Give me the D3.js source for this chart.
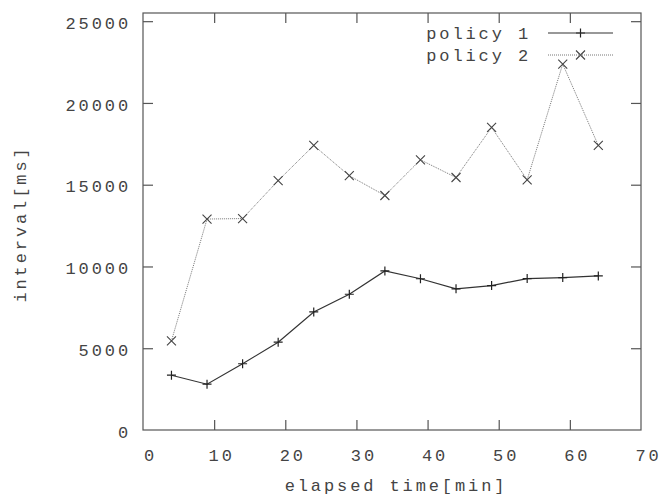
<!DOCTYPE html>
<html><head><meta charset="utf-8">
<script src="https://cdn.jsdelivr.net/npm/d3@7"></script>
<style>
html,body{margin:0;padding:0;background:#fff;}
text{font-family:"Liberation Mono","DejaVu Sans Mono",monospace;font-size:17px;fill:#444;letter-spacing:2.9px;}
</style></head>
<body><svg id="c" width="661" height="497"></svg>
<script>
const xValues = [4, 9, 14, 19, 24, 29, 34, 39, 44, 49, 54, 59, 64];
const policy1 = [3350, 2800, 4050, 5370, 7220, 8300, 9730, 9250, 8630, 8830, 9260, 9320, 9420];
const policy2 = [5450, 12900, 12930, 15250, 17400, 15550, 14340, 16520, 15440, 18500, 15300, 22380, 17400];
const seriesNames = ["policy 1", "policy 2"];
const xTicks = [0, 10, 20, 30, 40, 50, 60, 70];
const yTicks = [0, 5000, 10000, 15000, 20000, 25000];
const xLabel = "elapsed time[min]";
const yLabel = "interval[ms]";

const svg = d3.select("#c");
const L = 143, R = 641, T = 13, B = 430;
const x = d3.scaleLinear().domain([0, 70]).range([L, R]);
const y = d3.scaleLinear().domain([0, 25500]).range([B, T]);
const frameColor = "#555";

// frame
svg.append("rect").attr("x", L).attr("y", T).attr("width", R - L).attr("height", B - T)
  .attr("fill", "none").attr("stroke", frameColor).attr("stroke-width", 1.2);

// axes with inward ticks
const tk = 10;
const gxB = svg.append("g").attr("transform", `translate(0,${B})`)
  .call(d3.axisBottom(x).tickValues(xTicks).tickSize(-tk).tickPadding(12 + tk).tickFormat(d3.format("d")));
const gxT = svg.append("g").attr("transform", `translate(0,${T})`)
  .call(d3.axisTop(x).tickValues(xTicks).tickSize(-tk).tickFormat(""));
const gyL = svg.append("g").attr("transform", `translate(${L},0)`)
  .call(d3.axisLeft(y).tickValues(yTicks).tickSize(-tk).tickPadding(tk + 14).tickFormat(d3.format("d")));
const gyR = svg.append("g").attr("transform", `translate(${R},0)`)
  .call(d3.axisRight(y).tickValues(yTicks).tickSize(-tk).tickFormat(""));
[gxB, gxT, gyL, gyR].forEach(g => {
  g.select(".domain").remove();
  g.selectAll(".tick line").attr("stroke", frameColor).attr("stroke-width", 1.2);
  g.selectAll("text").attr("font-family", null).attr("font-size", null).attr("fill", "#444");
});
// remove edge ticks that coincide with the frame
gxB.selectAll(".tick").filter(d => d === 0 || d === 70).select("line").remove();
gxT.selectAll(".tick").filter(d => d === 0 || d === 70).select("line").remove();
gyL.selectAll(".tick").filter(d => d === 0).select("line").remove();
gyR.selectAll(".tick").filter(d => d === 0).select("line").remove();
gxB.selectAll("text").attr("dx", "7px").attr("dy", "0.55em");
gyL.selectAll("text").attr("dx", "12px").attr("dy", "0.42em");

// axis labels
svg.append("text").attr("x", (L + R) / 2 + 4).attr("y", 491).attr("text-anchor", "middle").text(xLabel);
svg.append("text").attr("transform", `translate(26,224) rotate(-90)`).attr("text-anchor", "middle").text(yLabel);

// lines
const line = d3.line().x(d => x(d[0])).y(d => y(d[1]));
const d1 = xValues.map((v, i) => [v, policy1[i]]);
const d2 = xValues.map((v, i) => [v, policy2[i]]);
svg.append("path").datum(d2).attr("d", line).attr("fill", "none")
  .attr("stroke", "#777").attr("stroke-width", 1).attr("stroke-dasharray", "1,1");
svg.append("path").datum(d1).attr("d", line).attr("fill", "none")
  .attr("stroke", "#333").attr("stroke-width", 1.2);

const ms = 4.5;
function plus(g, cx, cy, col) {
  g.append("path").attr("d", `M${cx - ms},${cy}H${cx + ms}M${cx},${cy - ms}V${cy + ms}`)
    .attr("stroke", col).attr("stroke-width", 1.2).attr("fill", "none");
}
function cross(g, cx, cy, col) {
  g.append("path").attr("d", `M${cx - ms},${cy - ms}L${cx + ms},${cy + ms}M${cx - ms},${cy + ms}L${cx + ms},${cy - ms}`)
    .attr("stroke", col).attr("stroke-width", 1.1).attr("fill", "none");
}
const gm = svg.append("g");
d1.forEach(d => plus(gm, x(d[0]), y(d[1]), "#222"));
d2.forEach(d => cross(gm, x(d[0]), y(d[1]), "#444"));

// legend
const lx1 = 548, lx2 = 613, ly = [33, 55];
svg.append("text").attr("x", 531).attr("y", ly[0]).attr("dy", "0.35em").attr("text-anchor", "end").text(seriesNames[0]);
svg.append("text").attr("x", 531).attr("y", ly[1]).attr("dy", "0.35em").attr("text-anchor", "end").text(seriesNames[1]);
svg.append("line").attr("x1", lx1).attr("x2", lx2).attr("y1", ly[0]).attr("y2", ly[0]).attr("stroke", "#333").attr("stroke-width", 1.2);
svg.append("line").attr("x1", lx1).attr("x2", lx2).attr("y1", ly[1]).attr("y2", ly[1]).attr("stroke", "#777").attr("stroke-dasharray", "1,1");
plus(gm, (lx1 + lx2) / 2, ly[0], "#222");
cross(gm, (lx1 + lx2) / 2, ly[1], "#444");
</script></body></html>
